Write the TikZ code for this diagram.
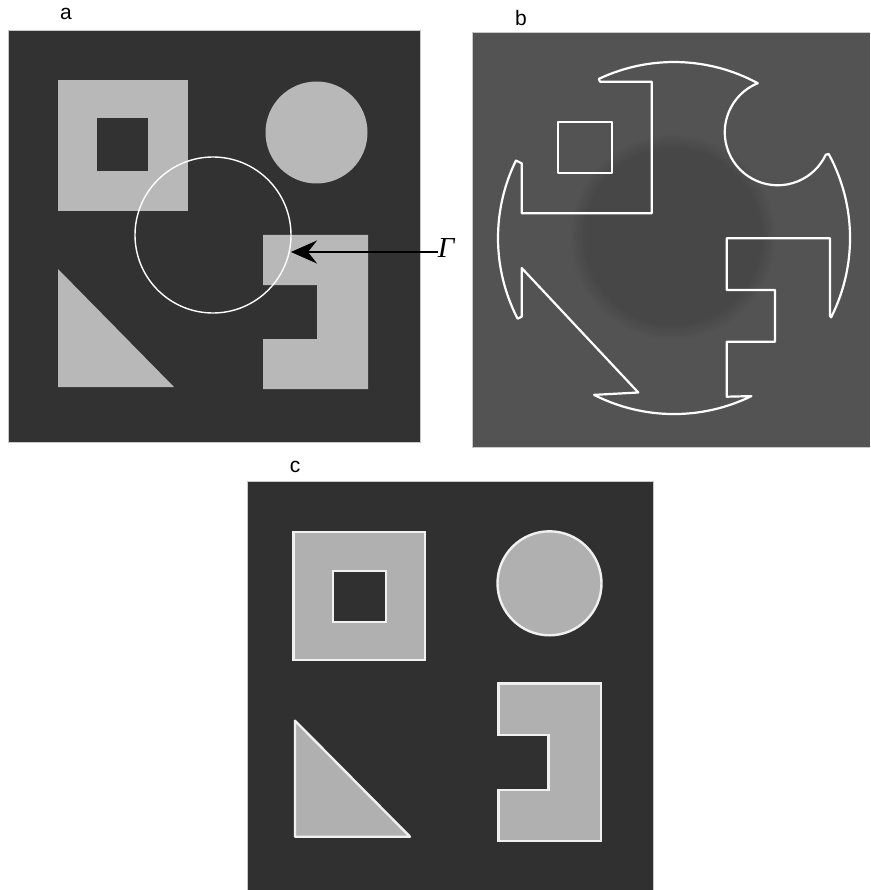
\documentclass[tikz,border=0pt]{standalone}
\usepackage{fontspec}
\setsansfont{Liberation Sans}
\newfontfamily\gamfont{Liberation Serif}
\usetikzlibrary{arrows.meta}
\definecolor{abg}{HTML}{323232}
\definecolor{ash}{HTML}{B8B8B8}
\definecolor{bbg}{HTML}{535353}
\definecolor{bdk}{HTML}{474747}
\definecolor{cbg}{HTML}{303030}
\definecolor{csh}{HTML}{B0B0B0}
\definecolor{frm}{HTML}{C8C8C8}
\begin{document}
\begin{tikzpicture}[x=1pt,y=-1pt,
  lbl/.style={font=\sffamily\fontsize{21}{21}\selectfont, inner sep=0pt},
  frame/.style={draw=frm, line width=0.7pt},
  contour/.style={draw=white, line width=2.2pt, line join=round},
  outline/.style={draw=white!94!black, line width=2.4pt},
  pointer/.style={draw=black, line width=1.6pt, -{Stealth[length=26pt, width=23pt, inset=9pt]}}]
\useasboundingbox (0,0) rectangle (870,890);

% ---------------- panel a ----------------
\fill[abg] (8,30) rectangle (420,442);
\draw[frame] (8,30) rectangle (420,442);
\fill[ash] (58,80) rectangle (188,211);
\fill[abg] (97,118) rectangle (148,171);
\fill[ash] (316.5,132.5) circle[radius=51];
\fill[ash] (58,269) -- (58,387) -- (174,387) -- cycle;
\fill[ash] (263,235) -- (368,235) -- (368,389) -- (263,389) -- (263,339)
  -- (317,339) -- (317,285) -- (263,285) -- cycle;
\draw[white, line width=1.4pt] (213,235) circle[radius=78];
\node[lbl] (la) at (66,14) {a};
\node[inner sep=0pt, font=\gamfont\itshape\fontsize{29}{29}\selectfont] (gam) at (446,248) {Γ};
\coordinate (tip) at (291,252);
\draw[pointer] (gam.west |- tip) -- (tip);

% ---------------- panel b ----------------
\begin{scope}
\clip (472.7,32) rectangle (870,447);
\fill[bbg] (472.7,32) rectangle (870,447);
\foreach \i in {0,...,10}{
  \pgfmathsetmacro{\p}{\i*10}
  \fill[bdk!\p!bbg] (673,237) circle[radius=104-\i*1.6];
}
\draw[contour]
  (598.8,78.9) arc[start angle=-115.3, end angle=-61.6, radius=176]
  arc[start angle=-112.2, end angle=-334.9, radius=53]
  -- (828.7,154) arc[start angle=-28.5, end angle=26.8, radius=176]
  -- (830,316) -- (830,238.3) -- (726.7,238.3) -- (726.7,290) -- (775,290)
  -- (775,341.7) -- (726.7,341.7) -- (726.7,396.7) -- (751.4,396.1)
  arc[start angle=63.9, end angle=117, radius=176]
  -- (638.3,392.5) -- (521.7,268) -- (521.7,316.7) -- (517.6,318.7)
  arc[start angle=152.7, end angle=206.1, radius=176]
  -- (521.7,163.3) -- (521.7,213.3) -- (651.7,213.3) -- (651.7,81.7)
  -- (600,81.7) -- cycle;
\draw[contour] (558.3,121.7) rectangle (611.7,173.3);
\end{scope}
\draw[frame] (870,32) -- (472.7,32) -- (472.7,447) -- (870,447);
\node[lbl] (lb) at (521,18) {b};

% ---------------- panel c ----------------
\fill[cbg] (247.3,481.7) rectangle (653.3,890);
\draw[frame] (247.3,890) -- (247.3,481.7) -- (653.3,481.7) -- (653.3,890);
\fill[csh, even odd rule] (293.3,531.7) rectangle (425,660) (332.7,570.7) rectangle (386,621.7);
\draw[outline] (293.3,531.7) rectangle (425,660);
\draw[outline] (332.7,570.7) rectangle (386,621.7);
\filldraw[fill=csh, outline] (549.5,583.3) circle[radius=52];
\filldraw[fill=csh, outline, line join=round] (295,720.7) -- (295,836.7) -- (410,836.7) -- cycle;
\filldraw[fill=csh, outline] (498.3,683.3) -- (600.7,683.3) -- (600.7,840.7) -- (498.3,840.7)
  -- (498.3,790) -- (548.3,790) -- (548.3,735) -- (498.3,735) -- cycle;
\node[lbl] (lc) at (295,467) {c};
\end{tikzpicture}
\end{document}
